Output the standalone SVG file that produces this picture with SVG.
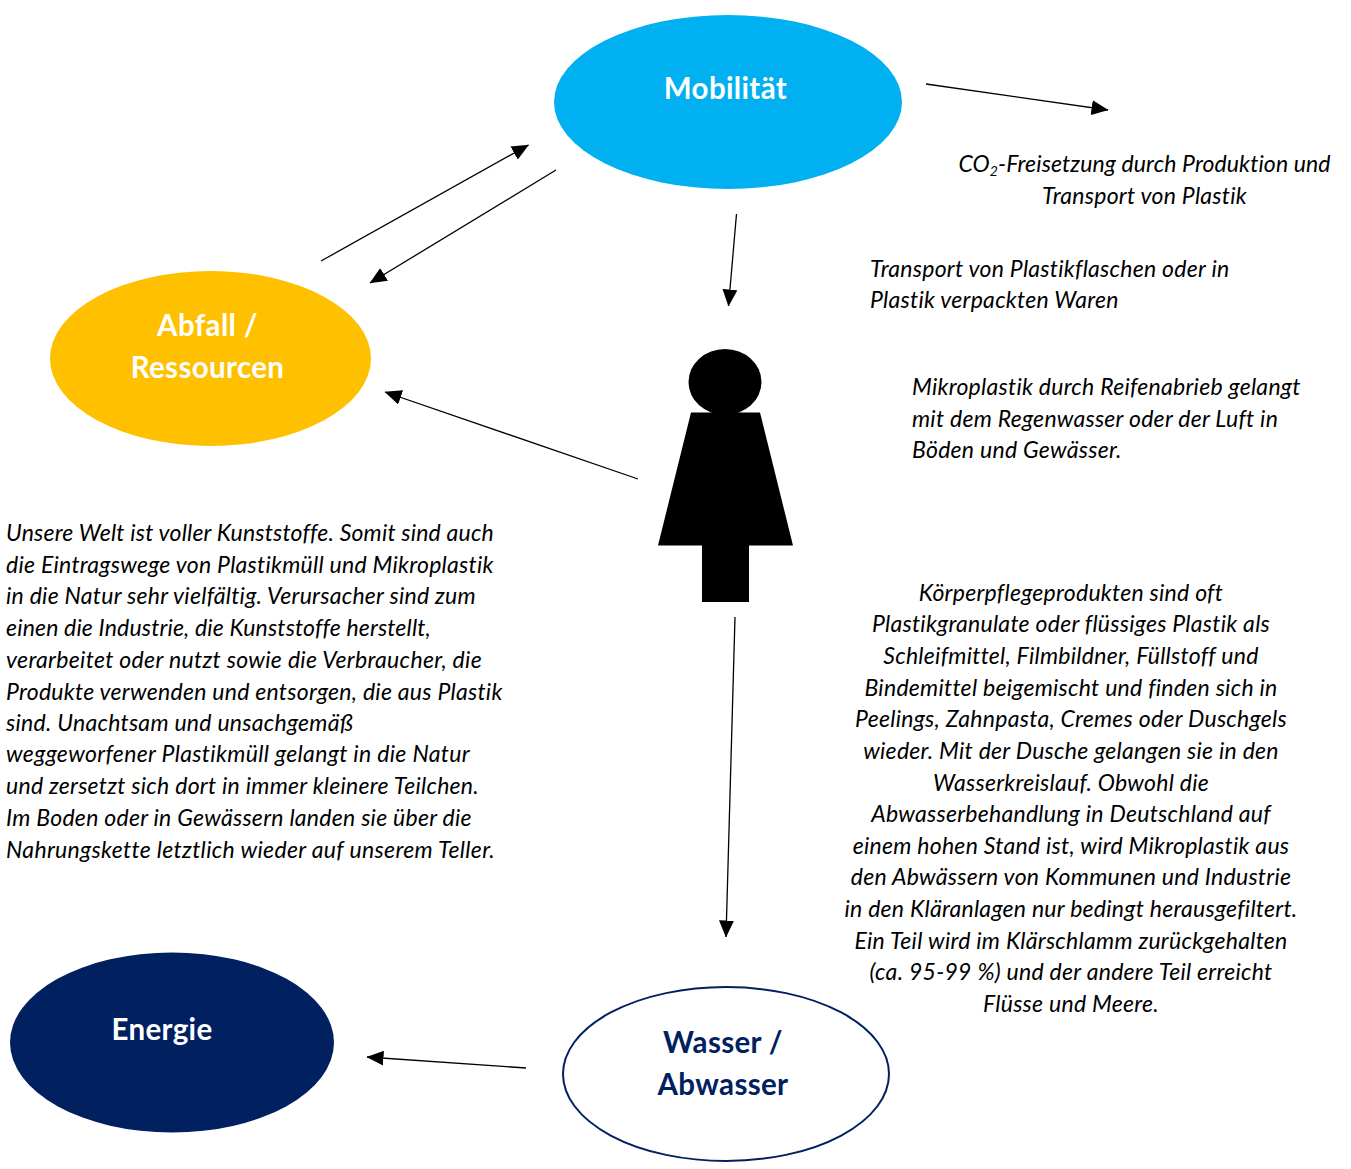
<svg xmlns="http://www.w3.org/2000/svg" width="1351" height="1169" viewBox="0 0 1351 1169">
<style>
text{font-family:"Lato","Liberation Sans",sans-serif;font-variant-ligatures:none}
.b{font-size:23px;letter-spacing:.27px;font-style:italic;fill:#000}
.t{font-size:29.500px;letter-spacing:.35px;font-weight:700}
.w{fill:#fff}.n{fill:#002060}
.m{text-anchor:middle}
.c line{stroke:#000;stroke-width:1.300;marker-end:url(#a)}
</style>
<defs><marker id="a" markerUnits="userSpaceOnUse" markerWidth="17" markerHeight="15" refX="16.500" refY="7.500" orient="auto"><path d="M0 0L17 7.500L0 15Z"/></marker></defs>
<rect width="1351" height="1169" fill="#fff"/>
<g id="mobilitaet"><ellipse cx="728" cy="102" rx="174" ry="87" fill="#00b0f0"/><text class="t w m" x="725.500" y="98.700">Mobilität</text></g>
<g id="abfall"><ellipse cx="210.500" cy="358.500" rx="160.500" ry="87.500" fill="#ffc000"/><text class="t w m" x="207.500" y="335.700">Abfall /</text><text class="t w m" x="207.500" y="377.700">Ressourcen</text></g>
<g id="energie"><ellipse cx="172" cy="1042.500" rx="162" ry="90" fill="#002060"/><text class="t w m" x="162" y="1039.700">Energie</text></g>
<g id="wasser"><ellipse cx="726" cy="1074" rx="163" ry="87" fill="#fff" stroke="#002060" stroke-width="2"/><text class="t n m" x="723" y="1052.700">Wasser /</text><text class="t n m" x="723" y="1094.700">Abwasser</text></g>
<g id="person"><ellipse cx="725" cy="382" rx="36.500" ry="33"/><path d="M691 412.500H760L793 545.500H749V602H702V545.500H658Z"/></g>
<g class="c" id="connectors">
<line x1="926" y1="84" x2="1108" y2="110"/>
<line x1="321" y1="261" x2="528.500" y2="145"/>
<line x1="556" y1="170" x2="370" y2="283"/>
<line x1="736.500" y1="214" x2="728.500" y2="306"/>
<line x1="638" y1="479" x2="385" y2="392"/>
<line x1="735" y1="617" x2="726" y2="937"/>
<line x1="526" y1="1068" x2="367" y2="1057"/>
</g>
<g id="text-co2" class="b" transform="translate(0 .5)"><text class="m" x="1144.500" y="171" style="letter-spacing:.12px">CO<tspan font-size="14" dy="4">2</tspan><tspan dy="-4">-Freisetzung durch Produktion und</tspan></text><text class="m" x="1144.500" y="203">Transport von Plastik</text></g>
<g id="text-transport" class="b" transform="translate(0 .5)"><text x="870" y="276">Transport von Plastikflaschen oder in</text><text x="870" y="307">Plastik verpackten Waren</text></g>
<g id="text-reifen" class="b" transform="translate(0 .5)"><text x="912" y="394">Mikroplastik durch Reifenabrieb gelangt</text><text x="912" y="426">mit dem Regenwasser oder der Luft in</text><text x="912" y="457">Böden und Gewässer.</text></g>
<g id="text-welt" class="b" transform="translate(0 .5)">
<text x="6" y="540" textLength="488">Unsere Welt ist voller Kunststoffe. Somit sind auch</text>
<text x="6" y="572">die Eintragswege von Plastikmüll und Mikroplastik</text>
<text x="6" y="603">in die Natur sehr vielfältig. Verursacher sind zum</text>
<text x="6" y="635" textLength="425">einen die Industrie, die Kunststoffe herstellt,</text>
<text x="6" y="667" textLength="476">verarbeitet oder nutzt sowie die Verbraucher, die</text>
<text x="6" y="699">Produkte verwenden und entsorgen, die aus Plastik</text>
<text x="6" y="730">sind. Unachtsam und unsachgemäß</text>
<text x="6" y="761" textLength="464">weggeworfener Plastikmüll gelangt in die Natur</text>
<text x="6" y="793">und zersetzt sich dort in immer kleinere Teilchen.</text>
<text x="6" y="825">Im Boden oder in Gewässern landen sie über die</text>
<text x="6" y="857" textLength="489">Nahrungskette letztlich wieder auf unserem Teller.</text>
</g>
<g id="text-koerper" class="b" transform="translate(0 .5)">
<text class="m" x="1071" y="600">Körperpflegeprodukten sind oft</text>
<text class="m" x="1071" y="631">Plastikgranulate oder flüssiges Plastik als</text>
<text class="m" x="1071" y="663">Schleifmittel, Filmbildner, Füllstoff und</text>
<text class="m" x="1071" y="695">Bindemittel beigemischt und finden sich in</text>
<text class="m" x="1071" y="726">Peelings, Zahnpasta, Cremes oder Duschgels</text>
<text class="m" x="1071" y="758">wieder. Mit der Dusche gelangen sie in den</text>
<text class="m" x="1071" y="790">Wasserkreislauf. Obwohl die</text>
<text class="m" x="1071" y="821">Abwasserbehandlung in Deutschland auf</text>
<text class="m" x="1071" y="853">einem hohen Stand ist, wird Mikroplastik aus</text>
<text class="m" x="1071" y="884">den Abwässern von Kommunen und Industrie</text>
<text class="m" x="1071" y="916">in den Kläranlagen nur bedingt herausgefiltert.</text>
<text class="m" x="1071" y="948">Ein Teil wird im Klärschlamm zurückgehalten</text>
<text class="m" x="1071" y="979">(ca. 95-99 %) und der andere Teil erreicht</text>
<text class="m" x="1071" y="1011">Flüsse und Meere.</text>
</g>
</svg>
